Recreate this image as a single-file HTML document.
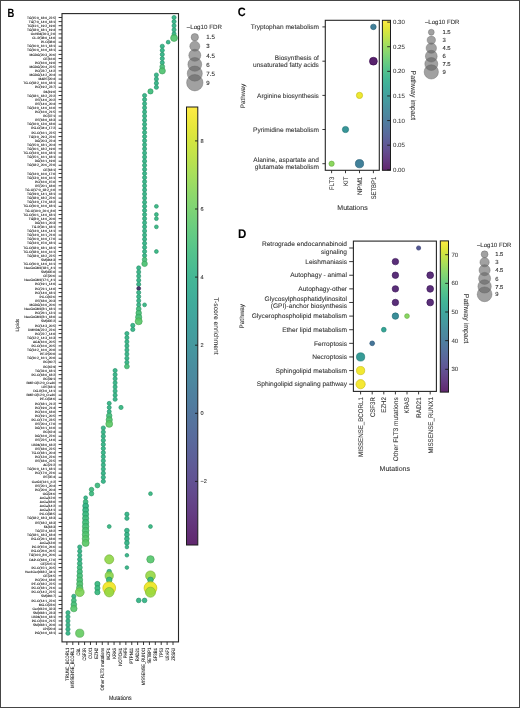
<!DOCTYPE html><html><head><meta charset="utf-8"><title>Figure</title><style>html,body{margin:0;padding:0;background:#fff;}svg{display:block;will-change:transform;}text{font-family:"Liberation Sans",sans-serif;text-rendering:geometricPrecision;}</style></head><body>
<svg width="520" height="708" viewBox="0 0 520 708">
<defs>
<linearGradient id="gB" x1="0" y1="1" x2="0" y2="0">
<stop offset="0.000" stop-color="#60276e"/>
<stop offset="0.025" stop-color="#622e75"/>
<stop offset="0.050" stop-color="#63367c"/>
<stop offset="0.075" stop-color="#643e84"/>
<stop offset="0.100" stop-color="#644589"/>
<stop offset="0.125" stop-color="#634c8f"/>
<stop offset="0.150" stop-color="#615393"/>
<stop offset="0.175" stop-color="#605996"/>
<stop offset="0.200" stop-color="#5d6099"/>
<stop offset="0.225" stop-color="#5b669b"/>
<stop offset="0.250" stop-color="#586c9d"/>
<stop offset="0.275" stop-color="#56729d"/>
<stop offset="0.300" stop-color="#53779e"/>
<stop offset="0.325" stop-color="#507d9f"/>
<stop offset="0.350" stop-color="#4e829f"/>
<stop offset="0.375" stop-color="#4c889f"/>
<stop offset="0.400" stop-color="#4a8c9f"/>
<stop offset="0.425" stop-color="#48919f"/>
<stop offset="0.450" stop-color="#46979f"/>
<stop offset="0.475" stop-color="#449c9e"/>
<stop offset="0.500" stop-color="#42a19e"/>
<stop offset="0.525" stop-color="#41a69d"/>
<stop offset="0.550" stop-color="#40ab9b"/>
<stop offset="0.575" stop-color="#41b099"/>
<stop offset="0.600" stop-color="#43b596"/>
<stop offset="0.625" stop-color="#48ba93"/>
<stop offset="0.650" stop-color="#4fbf8f"/>
<stop offset="0.675" stop-color="#56c48b"/>
<stop offset="0.700" stop-color="#60c986"/>
<stop offset="0.725" stop-color="#6acd80"/>
<stop offset="0.750" stop-color="#76d179"/>
<stop offset="0.775" stop-color="#82d573"/>
<stop offset="0.800" stop-color="#8ed86b"/>
<stop offset="0.825" stop-color="#9cdc62"/>
<stop offset="0.850" stop-color="#aadf5a"/>
<stop offset="0.875" stop-color="#b9e14f"/>
<stop offset="0.900" stop-color="#c7e447"/>
<stop offset="0.925" stop-color="#d5e53f"/>
<stop offset="0.950" stop-color="#e4e73b"/>
<stop offset="0.975" stop-color="#f1e93e"/>
<stop offset="1.000" stop-color="#feeb45"/>
</linearGradient>
<linearGradient id="gC" x1="0" y1="1" x2="0" y2="0">
<stop offset="0.000" stop-color="#60276e"/>
<stop offset="0.025" stop-color="#622e75"/>
<stop offset="0.050" stop-color="#63367c"/>
<stop offset="0.075" stop-color="#643e84"/>
<stop offset="0.100" stop-color="#644589"/>
<stop offset="0.125" stop-color="#634c8f"/>
<stop offset="0.150" stop-color="#615393"/>
<stop offset="0.175" stop-color="#605996"/>
<stop offset="0.200" stop-color="#5d6099"/>
<stop offset="0.225" stop-color="#5b669b"/>
<stop offset="0.250" stop-color="#586c9d"/>
<stop offset="0.275" stop-color="#56729d"/>
<stop offset="0.300" stop-color="#53779e"/>
<stop offset="0.325" stop-color="#507d9f"/>
<stop offset="0.350" stop-color="#4e829f"/>
<stop offset="0.375" stop-color="#4c889f"/>
<stop offset="0.400" stop-color="#4a8c9f"/>
<stop offset="0.425" stop-color="#48919f"/>
<stop offset="0.450" stop-color="#46979f"/>
<stop offset="0.475" stop-color="#449c9e"/>
<stop offset="0.500" stop-color="#42a19e"/>
<stop offset="0.525" stop-color="#41a69d"/>
<stop offset="0.550" stop-color="#40ab9b"/>
<stop offset="0.575" stop-color="#41b099"/>
<stop offset="0.600" stop-color="#43b596"/>
<stop offset="0.625" stop-color="#48ba93"/>
<stop offset="0.650" stop-color="#4fbf8f"/>
<stop offset="0.675" stop-color="#56c48b"/>
<stop offset="0.700" stop-color="#60c986"/>
<stop offset="0.725" stop-color="#6acd80"/>
<stop offset="0.750" stop-color="#76d179"/>
<stop offset="0.775" stop-color="#82d573"/>
<stop offset="0.800" stop-color="#8ed86b"/>
<stop offset="0.825" stop-color="#9cdc62"/>
<stop offset="0.850" stop-color="#aadf5a"/>
<stop offset="0.875" stop-color="#b9e14f"/>
<stop offset="0.900" stop-color="#c7e447"/>
<stop offset="0.925" stop-color="#d5e53f"/>
<stop offset="0.950" stop-color="#e4e73b"/>
<stop offset="0.975" stop-color="#f1e93e"/>
<stop offset="1.000" stop-color="#feeb45"/>
</linearGradient>
<linearGradient id="gD" x1="0" y1="1" x2="0" y2="0">
<stop offset="0.000" stop-color="#60276e"/>
<stop offset="0.025" stop-color="#622e75"/>
<stop offset="0.050" stop-color="#63367c"/>
<stop offset="0.075" stop-color="#643e84"/>
<stop offset="0.100" stop-color="#644589"/>
<stop offset="0.125" stop-color="#634c8f"/>
<stop offset="0.150" stop-color="#615393"/>
<stop offset="0.175" stop-color="#605996"/>
<stop offset="0.200" stop-color="#5d6099"/>
<stop offset="0.225" stop-color="#5b669b"/>
<stop offset="0.250" stop-color="#586c9d"/>
<stop offset="0.275" stop-color="#56729d"/>
<stop offset="0.300" stop-color="#53779e"/>
<stop offset="0.325" stop-color="#507d9f"/>
<stop offset="0.350" stop-color="#4e829f"/>
<stop offset="0.375" stop-color="#4c889f"/>
<stop offset="0.400" stop-color="#4a8c9f"/>
<stop offset="0.425" stop-color="#48919f"/>
<stop offset="0.450" stop-color="#46979f"/>
<stop offset="0.475" stop-color="#449c9e"/>
<stop offset="0.500" stop-color="#42a19e"/>
<stop offset="0.525" stop-color="#41a69d"/>
<stop offset="0.550" stop-color="#40ab9b"/>
<stop offset="0.575" stop-color="#41b099"/>
<stop offset="0.600" stop-color="#43b596"/>
<stop offset="0.625" stop-color="#48ba93"/>
<stop offset="0.650" stop-color="#4fbf8f"/>
<stop offset="0.675" stop-color="#56c48b"/>
<stop offset="0.700" stop-color="#60c986"/>
<stop offset="0.725" stop-color="#6acd80"/>
<stop offset="0.750" stop-color="#76d179"/>
<stop offset="0.775" stop-color="#82d573"/>
<stop offset="0.800" stop-color="#8ed86b"/>
<stop offset="0.825" stop-color="#9cdc62"/>
<stop offset="0.850" stop-color="#aadf5a"/>
<stop offset="0.875" stop-color="#b9e14f"/>
<stop offset="0.900" stop-color="#c7e447"/>
<stop offset="0.925" stop-color="#d5e53f"/>
<stop offset="0.950" stop-color="#e4e73b"/>
<stop offset="0.975" stop-color="#f1e93e"/>
<stop offset="1.000" stop-color="#feeb45"/>
</linearGradient>
</defs>
<rect x="0" y="0" width="520" height="708" fill="#fff"/>
<g font-size="3.25" fill="#111" text-anchor="end" stroke="#111" stroke-width="0.08">
<text x="56.2" y="18.65">TG(15:0_18:0_22:5)</text>
<text x="56.2" y="22.75">TG(7:0_14:0_18:1)</text>
<text x="56.2" y="26.86">TG(11:1_19:2_19:0)</text>
<text x="56.2" y="30.96">TG(18:0_18:1_19:4)</text>
<text x="56.2" y="35.07">OxHPA(20:3_2:0)</text>
<text x="56.2" y="39.18">CL-P(38:0_14:0)</text>
<text x="56.2" y="43.28">PI-O(38:0)</text>
<text x="56.2" y="47.38">TG(16:0_16:1_18:1)</text>
<text x="56.2" y="51.49">TG(16:0_16:0_18:1)</text>
<text x="56.2" y="55.60">MGDG(20:3_20:6)</text>
<text x="56.2" y="59.70">CE(16:0)</text>
<text x="56.2" y="63.80">PC(16:0_19:0)</text>
<text x="56.2" y="67.91">MGDG(20:4_22:5)</text>
<text x="56.2" y="72.02">PC(23:7_14:2)</text>
<text x="56.2" y="76.12">MGDG(14:2_20:4)</text>
<text x="56.2" y="80.23">MAPE(20:4)</text>
<text x="56.2" y="84.33">TG-O(18:2_16:0_18:1)</text>
<text x="56.2" y="88.44">PC(19:2_23:7)</text>
<text x="56.2" y="92.54">PA(19:0)</text>
<text x="56.2" y="96.65">TG(18:1_18:2_22:2)</text>
<text x="56.2" y="100.75">PE(14:0_20:2)</text>
<text x="56.2" y="104.86">PE(14:0_20:4)</text>
<text x="56.2" y="108.96">TG(14:0_14:0_16:0)</text>
<text x="56.2" y="113.07">PC(16:0_21:5)</text>
<text x="56.2" y="117.17">PC(37:1)</text>
<text x="56.2" y="121.28">PE(18:0_18:3)</text>
<text x="56.2" y="125.38">TG(10:0_13:0_18:0)</text>
<text x="56.2" y="129.49">PG-O(34:4_17:2)</text>
<text x="56.2" y="133.59">PC-O(16:1_22:5)</text>
<text x="56.2" y="137.70">TG(4:0_29:3_22:6)</text>
<text x="56.2" y="141.80">DG(20:3_22:4)</text>
<text x="56.2" y="145.91">TG(15:0_18:1_20:4)</text>
<text x="56.2" y="150.01">TG(16:1_18:2_19:0)</text>
<text x="56.2" y="154.12">TG-O(14:0_16:0_18:1)</text>
<text x="56.2" y="158.22">TG(15:1_16:1_18:1)</text>
<text x="56.2" y="162.33">DG(16:1_19:0)</text>
<text x="56.2" y="166.43">TG(18:2_20:6_22:0)</text>
<text x="56.2" y="170.54">CE(18:1)</text>
<text x="56.2" y="174.64">TG(14:0_16:0_17:0)</text>
<text x="56.2" y="178.75">TG(13:0_16:0_16:1)</text>
<text x="56.2" y="182.85">PC(16:0_15:0)</text>
<text x="56.2" y="186.96">PE(20:1_18:0)</text>
<text x="56.2" y="191.06">TG-O(17:0_18:2_6:0)</text>
<text x="56.2" y="195.17">TG(19:0_14:1_18:1)</text>
<text x="56.2" y="199.27">TG(18:0_18:2_22:6)</text>
<text x="56.2" y="203.38">TG(14:0_17:0_18:2)</text>
<text x="56.2" y="207.48">TG-O(16:0_16:0_18:1)</text>
<text x="56.2" y="211.59">TG-O(10:0_20:4_8:0)</text>
<text x="56.2" y="215.69">TG-O(16:1_14:0_18:1)</text>
<text x="56.2" y="219.80">TG(8:0_14:0_20:0)</text>
<text x="56.2" y="223.90">DG(16:1_20:3)</text>
<text x="56.2" y="228.01">TG-P(36:1_18:1)</text>
<text x="56.2" y="232.11">TG(14:0_14:0_14:1)</text>
<text x="56.2" y="236.22">TG(14:0_16:1_21:0)</text>
<text x="56.2" y="240.32">TG(16:0_16:0_17:0)</text>
<text x="56.2" y="244.43">TG(14:0_15:0_18:1)</text>
<text x="56.2" y="248.53">TG-O(18:0_18:1_18:1)</text>
<text x="56.2" y="252.64">TG-O(18:0_16:0_16:1)</text>
<text x="56.2" y="256.74">TG(18:0_18:2_22:5)</text>
<text x="56.2" y="260.85">SM(d44:3)</text>
<text x="56.2" y="264.95">TG-O(16:0_14:0_16:1)</text>
<text x="56.2" y="269.06">NeuGcGM1(18:1_4:1)</text>
<text x="56.2" y="273.16">SM(d35:0)</text>
<text x="56.2" y="277.26">CE(20:6)</text>
<text x="56.2" y="281.37">NeuGcGM1(17:1_4:1)</text>
<text x="56.2" y="285.48">PC(19:1_14:0)</text>
<text x="56.2" y="289.58">PC(21:1_14:0)</text>
<text x="56.2" y="293.69">PC(14:0_18:1)</text>
<text x="56.2" y="297.79">PC-O(42:6)</text>
<text x="56.2" y="301.89">PE(18:0_20:3)</text>
<text x="56.2" y="306.00">MGDG(16:0_20:6)</text>
<text x="56.2" y="310.11">NeuGcGM1(8:1_18:1)</text>
<text x="56.2" y="314.21">PC(26:1_13:1)</text>
<text x="56.2" y="318.31">NeuGcGM1(8:1_18:0)</text>
<text x="56.2" y="322.42">SM(d35:2)</text>
<text x="56.2" y="326.53">PC(14:3_20:5)</text>
<text x="56.2" y="330.63">DMHPA(22:2_22:6)</text>
<text x="56.2" y="334.74">PC(22:7_14:0)</text>
<text x="56.2" y="338.84">TG(12:2_14:3_16:3)</text>
<text x="56.2" y="342.94">ACA(16:0_20:5)</text>
<text x="56.2" y="347.05">PC-O(16:0_20:5)</text>
<text x="56.2" y="351.16">TG(14:2_16:0_20:0)</text>
<text x="56.2" y="355.26">PE-P(20:0)</text>
<text x="56.2" y="359.37">TG(16:2_16:1_20:0)</text>
<text x="56.2" y="363.47">PC(40:7)</text>
<text x="56.2" y="367.57">PC(42:9)</text>
<text x="56.2" y="371.68">TG(31:0_18:1)</text>
<text x="56.2" y="375.79">PC-O(18:0_18:2)</text>
<text x="56.2" y="379.89">PC(39:1)</text>
<text x="56.2" y="384.00">BMP-O(12:0_O:a16)</text>
<text x="56.2" y="388.10">LPE(18:1)</text>
<text x="56.2" y="392.21">DG-P(3:0_14:1)</text>
<text x="56.2" y="396.31">BMP-O(12:0_O:a16)</text>
<text x="56.2" y="400.42">PE-O(34:6)</text>
<text x="56.2" y="404.52">PC(18:1_21:2)</text>
<text x="56.2" y="408.62">PC(19:0_21:4)</text>
<text x="56.2" y="412.73">PC(16:0_18:0)</text>
<text x="56.2" y="416.84">PC(19:1_20:5)</text>
<text x="56.2" y="420.94">PC-O(17:0_23:5)</text>
<text x="56.2" y="425.05">PE(20:4_17:0)</text>
<text x="56.2" y="429.15">DG(16:1_16:0)</text>
<text x="56.2" y="433.25">PC(42:4)</text>
<text x="56.2" y="437.36">DG(16:0_22:6)</text>
<text x="56.2" y="441.47">PE(22:5_14:0)</text>
<text x="56.2" y="445.57">LBPA(18:0_18:2)</text>
<text x="56.2" y="449.68">PE(18:0_22:5)</text>
<text x="56.2" y="453.78">TG-O(18:1_20:4)</text>
<text x="56.2" y="457.89">PC(13:0_22:6)</text>
<text x="56.2" y="461.99">PE(18:0_22:5)</text>
<text x="56.2" y="466.10">AC(21:2)</text>
<text x="56.2" y="470.20">TG(16:0_14:1_18:1)</text>
<text x="56.2" y="474.31">PC(17:0_22:6)</text>
<text x="56.2" y="478.41">PE(35:4)</text>
<text x="56.2" y="482.52">CerG1(14:1_6:2)</text>
<text x="56.2" y="486.62">PE(20:1_20:4)</text>
<text x="56.2" y="490.73">PC(20:0_20:4)</text>
<text x="56.2" y="494.83">OG(24:6)</text>
<text x="56.2" y="498.94">AcCa(12:0)</text>
<text x="56.2" y="503.04">AcCa(18:0)</text>
<text x="56.2" y="507.15">AcCa(14:2)</text>
<text x="56.2" y="511.25">AcCa(14:1)</text>
<text x="56.2" y="515.36">PC-O(38:5)</text>
<text x="56.2" y="519.46">TG(18:2_18:3_18:3)</text>
<text x="56.2" y="523.57">PE(18:2_18:3)</text>
<text x="56.2" y="527.67">FA(18:3)</text>
<text x="56.2" y="531.77">TG(37:4_18:2)</text>
<text x="56.2" y="535.88">TG(18:1_18:3_18:4)</text>
<text x="56.2" y="539.99">PG-O(26:1_18:0)</text>
<text x="56.2" y="544.09">AcCa(13:0)</text>
<text x="56.2" y="548.20">PC-P(15:0_26:6)</text>
<text x="56.2" y="552.30">PG-O(26:0_26:5)</text>
<text x="56.2" y="556.41">TG(14:0_8:0_20:6)</text>
<text x="56.2" y="560.51">DAP-O(18:0_17:0)</text>
<text x="56.2" y="564.62">CE(20:5:1)</text>
<text x="56.2" y="568.72">PC-O(15:1_20:5)</text>
<text x="56.2" y="572.83">Hex1Cer(d18:2_34:1)</text>
<text x="56.2" y="576.93">CE(24:5)</text>
<text x="56.2" y="581.04">PC(20:4_18:0)</text>
<text x="56.2" y="585.14">PE-O(18:2_22:5)</text>
<text x="56.2" y="589.25">PC-O(18:1_21:6)</text>
<text x="56.2" y="593.35">PC-O(14:2_22:5)</text>
<text x="56.2" y="597.46">SM(d46:7)</text>
<text x="56.2" y="601.56">PC-O(14:1_22:6)</text>
<text x="56.2" y="605.67">MG-O(23:6)</text>
<text x="56.2" y="609.77">Cer(d12:0_32:3)</text>
<text x="56.2" y="613.88">SM(d18:1_23:3)</text>
<text x="56.2" y="617.98">LBPA(16:0_18:1)</text>
<text x="56.2" y="622.09">PC-O(11:0_21:5)</text>
<text x="56.2" y="626.19">SM(d18:1_20:0)</text>
<text x="56.2" y="630.30">LPI(20:4)</text>
<text x="56.2" y="634.40">PG(16:0_18:1)</text>
</g>
<path d="M58.6 17.50H62M58.6 21.61H62M58.6 25.71H62M58.6 29.82H62M58.6 33.92H62M58.6 38.03H62M58.6 42.13H62M58.6 46.23H62M58.6 50.34H62M58.6 54.45H62M58.6 58.55H62M58.6 62.66H62M58.6 66.76H62M58.6 70.87H62M58.6 74.97H62M58.6 79.08H62M58.6 83.18H62M58.6 87.29H62M58.6 91.39H62M58.6 95.50H62M58.6 99.60H62M58.6 103.71H62M58.6 107.81H62M58.6 111.92H62M58.6 116.02H62M58.6 120.13H62M58.6 124.23H62M58.6 128.34H62M58.6 132.44H62M58.6 136.55H62M58.6 140.65H62M58.6 144.75H62M58.6 148.86H62M58.6 152.97H62M58.6 157.07H62M58.6 161.18H62M58.6 165.28H62M58.6 169.39H62M58.6 173.49H62M58.6 177.60H62M58.6 181.70H62M58.6 185.81H62M58.6 189.91H62M58.6 194.02H62M58.6 198.12H62M58.6 202.23H62M58.6 206.33H62M58.6 210.44H62M58.6 214.54H62M58.6 218.65H62M58.6 222.75H62M58.6 226.86H62M58.6 230.96H62M58.6 235.07H62M58.6 239.17H62M58.6 243.28H62M58.6 247.38H62M58.6 251.49H62M58.6 255.59H62M58.6 259.70H62M58.6 263.80H62M58.6 267.91H62M58.6 272.01H62M58.6 276.12H62M58.6 280.22H62M58.6 284.33H62M58.6 288.43H62M58.6 292.54H62M58.6 296.64H62M58.6 300.75H62M58.6 304.85H62M58.6 308.96H62M58.6 313.06H62M58.6 317.17H62M58.6 321.27H62M58.6 325.38H62M58.6 329.48H62M58.6 333.59H62M58.6 337.69H62M58.6 341.80H62M58.6 345.90H62M58.6 350.01H62M58.6 354.11H62M58.6 358.22H62M58.6 362.32H62M58.6 366.43H62M58.6 370.53H62M58.6 374.64H62M58.6 378.74H62M58.6 382.85H62M58.6 386.95H62M58.6 391.06H62M58.6 395.16H62M58.6 399.27H62M58.6 403.37H62M58.6 407.48H62M58.6 411.58H62M58.6 415.69H62M58.6 419.79H62M58.6 423.90H62M58.6 428.00H62M58.6 432.11H62M58.6 436.21H62M58.6 440.32H62M58.6 444.42H62M58.6 448.53H62M58.6 452.63H62M58.6 456.74H62M58.6 460.84H62M58.6 464.95H62M58.6 469.05H62M58.6 473.16H62M58.6 477.26H62M58.6 481.37H62M58.6 485.47H62M58.6 489.58H62M58.6 493.68H62M58.6 497.79H62M58.6 501.89H62M58.6 506.00H62M58.6 510.10H62M58.6 514.21H62M58.6 518.31H62M58.6 522.42H62M58.6 526.52H62M58.6 530.62H62M58.6 534.73H62M58.6 538.84H62M58.6 542.94H62M58.6 547.05H62M58.6 551.15H62M58.6 555.26H62M58.6 559.36H62M58.6 563.47H62M58.6 567.57H62M58.6 571.68H62M58.6 575.78H62M58.6 579.89H62M58.6 583.99H62M58.6 588.10H62M58.6 592.20H62M58.6 596.31H62M58.6 600.41H62M58.6 604.52H62M58.6 608.62H62M58.6 612.73H62M58.6 616.83H62M58.6 620.94H62M58.6 625.04H62M58.6 629.15H62M58.6 633.25H62" stroke="#222" stroke-width="0.9" fill="none"/>
<path d="M66.90 641.90V645.0M72.80 641.90V645.0M78.69 641.90V645.0M84.59 641.90V645.0M90.48 641.90V645.0M96.38 641.90V645.0M102.27 641.90V645.0M108.17 641.90V645.0M114.06 641.90V645.0M119.95 641.90V645.0M125.85 641.90V645.0M131.75 641.90V645.0M137.64 641.90V645.0M143.53 641.90V645.0M149.43 641.90V645.0M155.32 641.90V645.0M161.22 641.90V645.0M167.12 641.90V645.0M173.01 641.90V645.0" stroke="#222" stroke-width="0.9" fill="none"/>
<g font-size="4.9" fill="#1e1e1e" text-anchor="end" stroke="#1e1e1e" stroke-width="0.08">
<text transform="translate(68.50,647.80) rotate(-90)" textLength="33" lengthAdjust="spacingAndGlyphs">TRUNC_BCORL1</text>
<text transform="translate(74.39,647.80) rotate(-90)" textLength="40" lengthAdjust="spacingAndGlyphs">MISSENSE_BCORL1</text>
<text transform="translate(80.29,647.80) rotate(-90)" textLength="7.6" lengthAdjust="spacingAndGlyphs">CBL</text>
<text transform="translate(86.19,647.80) rotate(-90)" textLength="12.8" lengthAdjust="spacingAndGlyphs">CSF3R</text>
<text transform="translate(92.08,647.80) rotate(-90)" textLength="11" lengthAdjust="spacingAndGlyphs">CUX1</text>
<text transform="translate(97.97,647.80) rotate(-90)" textLength="11" lengthAdjust="spacingAndGlyphs">EZH2</text>
<text transform="translate(103.87,647.80) rotate(-90)" textLength="42.7" lengthAdjust="spacingAndGlyphs">Other FLT3 mutations</text>
<text transform="translate(109.77,647.80) rotate(-90)" textLength="12" lengthAdjust="spacingAndGlyphs">IKZF1</text>
<text transform="translate(115.66,647.80) rotate(-90)" textLength="11" lengthAdjust="spacingAndGlyphs">KRAS</text>
<text transform="translate(121.55,647.80) rotate(-90)" textLength="18" lengthAdjust="spacingAndGlyphs">NOTCH1</text>
<text transform="translate(127.45,647.80) rotate(-90)" textLength="10.5" lengthAdjust="spacingAndGlyphs">PHF6</text>
<text transform="translate(133.34,647.80) rotate(-90)" textLength="15.8" lengthAdjust="spacingAndGlyphs">PTPN11</text>
<text transform="translate(139.24,647.80) rotate(-90)" textLength="13.5" lengthAdjust="spacingAndGlyphs">RAD21</text>
<text transform="translate(145.13,647.80) rotate(-90)" textLength="37.4" lengthAdjust="spacingAndGlyphs">MISSENSE_RUNX1</text>
<text transform="translate(151.03,647.80) rotate(-90)" textLength="15.8" lengthAdjust="spacingAndGlyphs">SETBP1</text>
<text transform="translate(156.92,647.80) rotate(-90)" textLength="13.5" lengthAdjust="spacingAndGlyphs">SF3B1</text>
<text transform="translate(162.82,647.80) rotate(-90)" textLength="9.7" lengthAdjust="spacingAndGlyphs">TP53</text>
<text transform="translate(168.72,647.80) rotate(-90)" textLength="12.8" lengthAdjust="spacingAndGlyphs">U2AF1</text>
<text transform="translate(174.61,647.80) rotate(-90)" textLength="12.8" lengthAdjust="spacingAndGlyphs">ZRSR2</text>
</g>
<circle cx="174.06" cy="17.50" r="2.08" fill="#2ab07f" fill-opacity="0.9" stroke="#229068" stroke-opacity="0.85" stroke-width="0.75"/>
<circle cx="174.06" cy="21.61" r="2.08" fill="#2ab07f" fill-opacity="0.9" stroke="#229068" stroke-opacity="0.85" stroke-width="0.75"/>
<circle cx="174.06" cy="25.71" r="2.08" fill="#2ab07f" fill-opacity="0.9" stroke="#229068" stroke-opacity="0.85" stroke-width="0.75"/>
<circle cx="174.06" cy="29.82" r="2.08" fill="#2ab07f" fill-opacity="0.9" stroke="#229068" stroke-opacity="0.85" stroke-width="0.75"/>
<circle cx="174.06" cy="33.92" r="2.08" fill="#2ab07f" fill-opacity="0.9" stroke="#229068" stroke-opacity="0.85" stroke-width="0.75"/>
<circle cx="174.06" cy="38.03" r="3.42" fill="#4ec36b" fill-opacity="0.9" stroke="#40a058" stroke-opacity="0.85" stroke-width="0.75"/>
<circle cx="168.16" cy="42.13" r="1.92" fill="#2ab07f" fill-opacity="0.9" stroke="#229068" stroke-opacity="0.85" stroke-width="0.75"/>
<circle cx="162.27" cy="46.23" r="2.08" fill="#2ab07f" fill-opacity="0.9" stroke="#229068" stroke-opacity="0.85" stroke-width="0.75"/>
<circle cx="162.27" cy="50.34" r="2.08" fill="#2ab07f" fill-opacity="0.9" stroke="#229068" stroke-opacity="0.85" stroke-width="0.75"/>
<circle cx="162.27" cy="54.45" r="2.08" fill="#2ab07f" fill-opacity="0.9" stroke="#229068" stroke-opacity="0.85" stroke-width="0.75"/>
<circle cx="162.27" cy="58.55" r="2.08" fill="#2ab07f" fill-opacity="0.9" stroke="#229068" stroke-opacity="0.85" stroke-width="0.75"/>
<circle cx="162.27" cy="62.66" r="2.08" fill="#2ab07f" fill-opacity="0.9" stroke="#229068" stroke-opacity="0.85" stroke-width="0.75"/>
<circle cx="162.27" cy="66.76" r="2.42" fill="#3fbc73" fill-opacity="0.9" stroke="#349a5e" stroke-opacity="0.85" stroke-width="0.75"/>
<circle cx="162.27" cy="70.87" r="3.12" fill="#4ac16d" fill-opacity="0.9" stroke="#3d9e59" stroke-opacity="0.85" stroke-width="0.75"/>
<circle cx="156.38" cy="74.97" r="2.08" fill="#2ab07f" fill-opacity="0.9" stroke="#229068" stroke-opacity="0.85" stroke-width="0.75"/>
<circle cx="156.38" cy="79.08" r="2.08" fill="#2ab07f" fill-opacity="0.9" stroke="#229068" stroke-opacity="0.85" stroke-width="0.75"/>
<circle cx="156.38" cy="83.18" r="2.08" fill="#2ab07f" fill-opacity="0.9" stroke="#229068" stroke-opacity="0.85" stroke-width="0.75"/>
<circle cx="156.38" cy="87.29" r="2.08" fill="#2ab07f" fill-opacity="0.9" stroke="#229068" stroke-opacity="0.85" stroke-width="0.75"/>
<circle cx="150.48" cy="91.39" r="2.62" fill="#38b977" fill-opacity="0.9" stroke="#2e9862" stroke-opacity="0.85" stroke-width="0.75"/>
<circle cx="144.58" cy="95.50" r="2.08" fill="#2ab07f" fill-opacity="0.9" stroke="#229068" stroke-opacity="0.85" stroke-width="0.75"/>
<circle cx="144.58" cy="99.60" r="2.08" fill="#2ab07f" fill-opacity="0.9" stroke="#229068" stroke-opacity="0.85" stroke-width="0.75"/>
<circle cx="144.58" cy="103.71" r="2.08" fill="#2ab07f" fill-opacity="0.9" stroke="#229068" stroke-opacity="0.85" stroke-width="0.75"/>
<circle cx="144.58" cy="107.81" r="2.08" fill="#2ab07f" fill-opacity="0.9" stroke="#229068" stroke-opacity="0.85" stroke-width="0.75"/>
<circle cx="144.58" cy="111.92" r="2.08" fill="#2ab07f" fill-opacity="0.9" stroke="#229068" stroke-opacity="0.85" stroke-width="0.75"/>
<circle cx="144.58" cy="116.02" r="2.08" fill="#2ab07f" fill-opacity="0.9" stroke="#229068" stroke-opacity="0.85" stroke-width="0.75"/>
<circle cx="144.58" cy="120.13" r="2.08" fill="#2ab07f" fill-opacity="0.9" stroke="#229068" stroke-opacity="0.85" stroke-width="0.75"/>
<circle cx="144.58" cy="124.23" r="2.08" fill="#2ab07f" fill-opacity="0.9" stroke="#229068" stroke-opacity="0.85" stroke-width="0.75"/>
<circle cx="144.58" cy="128.34" r="2.08" fill="#2ab07f" fill-opacity="0.9" stroke="#229068" stroke-opacity="0.85" stroke-width="0.75"/>
<circle cx="144.58" cy="132.44" r="2.08" fill="#2ab07f" fill-opacity="0.9" stroke="#229068" stroke-opacity="0.85" stroke-width="0.75"/>
<circle cx="144.58" cy="136.55" r="2.08" fill="#2ab07f" fill-opacity="0.9" stroke="#229068" stroke-opacity="0.85" stroke-width="0.75"/>
<circle cx="144.58" cy="140.65" r="2.08" fill="#2ab07f" fill-opacity="0.9" stroke="#229068" stroke-opacity="0.85" stroke-width="0.75"/>
<circle cx="144.58" cy="144.75" r="2.08" fill="#2ab07f" fill-opacity="0.9" stroke="#229068" stroke-opacity="0.85" stroke-width="0.75"/>
<circle cx="144.58" cy="148.86" r="2.08" fill="#2ab07f" fill-opacity="0.9" stroke="#229068" stroke-opacity="0.85" stroke-width="0.75"/>
<circle cx="144.58" cy="152.97" r="2.08" fill="#2ab07f" fill-opacity="0.9" stroke="#229068" stroke-opacity="0.85" stroke-width="0.75"/>
<circle cx="144.58" cy="157.07" r="2.08" fill="#2ab07f" fill-opacity="0.9" stroke="#229068" stroke-opacity="0.85" stroke-width="0.75"/>
<circle cx="144.58" cy="161.18" r="2.08" fill="#2ab07f" fill-opacity="0.9" stroke="#229068" stroke-opacity="0.85" stroke-width="0.75"/>
<circle cx="144.58" cy="165.28" r="2.08" fill="#2ab07f" fill-opacity="0.9" stroke="#229068" stroke-opacity="0.85" stroke-width="0.75"/>
<circle cx="144.58" cy="169.39" r="2.08" fill="#2ab07f" fill-opacity="0.9" stroke="#229068" stroke-opacity="0.85" stroke-width="0.75"/>
<circle cx="144.58" cy="173.49" r="2.08" fill="#2ab07f" fill-opacity="0.9" stroke="#229068" stroke-opacity="0.85" stroke-width="0.75"/>
<circle cx="144.58" cy="177.60" r="2.08" fill="#2ab07f" fill-opacity="0.9" stroke="#229068" stroke-opacity="0.85" stroke-width="0.75"/>
<circle cx="144.58" cy="181.70" r="2.08" fill="#2ab07f" fill-opacity="0.9" stroke="#229068" stroke-opacity="0.85" stroke-width="0.75"/>
<circle cx="144.58" cy="185.81" r="2.08" fill="#2ab07f" fill-opacity="0.9" stroke="#229068" stroke-opacity="0.85" stroke-width="0.75"/>
<circle cx="144.58" cy="189.91" r="2.08" fill="#2ab07f" fill-opacity="0.9" stroke="#229068" stroke-opacity="0.85" stroke-width="0.75"/>
<circle cx="144.58" cy="194.02" r="2.08" fill="#2ab07f" fill-opacity="0.9" stroke="#229068" stroke-opacity="0.85" stroke-width="0.75"/>
<circle cx="144.58" cy="198.12" r="2.08" fill="#2ab07f" fill-opacity="0.9" stroke="#229068" stroke-opacity="0.85" stroke-width="0.75"/>
<circle cx="144.58" cy="202.23" r="2.08" fill="#2ab07f" fill-opacity="0.9" stroke="#229068" stroke-opacity="0.85" stroke-width="0.75"/>
<circle cx="144.58" cy="206.33" r="2.08" fill="#2ab07f" fill-opacity="0.9" stroke="#229068" stroke-opacity="0.85" stroke-width="0.75"/>
<circle cx="156.38" cy="206.33" r="1.92" fill="#2db27d" fill-opacity="0.9" stroke="#259266" stroke-opacity="0.85" stroke-width="0.75"/>
<circle cx="144.58" cy="210.44" r="2.08" fill="#2ab07f" fill-opacity="0.9" stroke="#229068" stroke-opacity="0.85" stroke-width="0.75"/>
<circle cx="144.58" cy="214.54" r="2.08" fill="#2ab07f" fill-opacity="0.9" stroke="#229068" stroke-opacity="0.85" stroke-width="0.75"/>
<circle cx="156.38" cy="214.54" r="1.92" fill="#2db27d" fill-opacity="0.9" stroke="#259266" stroke-opacity="0.85" stroke-width="0.75"/>
<circle cx="144.58" cy="218.65" r="2.08" fill="#2ab07f" fill-opacity="0.9" stroke="#229068" stroke-opacity="0.85" stroke-width="0.75"/>
<circle cx="156.38" cy="218.65" r="1.92" fill="#2db27d" fill-opacity="0.9" stroke="#259266" stroke-opacity="0.85" stroke-width="0.75"/>
<circle cx="144.58" cy="222.75" r="2.08" fill="#2ab07f" fill-opacity="0.9" stroke="#229068" stroke-opacity="0.85" stroke-width="0.75"/>
<circle cx="144.58" cy="226.86" r="2.08" fill="#2ab07f" fill-opacity="0.9" stroke="#229068" stroke-opacity="0.85" stroke-width="0.75"/>
<circle cx="156.38" cy="226.86" r="1.92" fill="#2db27d" fill-opacity="0.9" stroke="#259266" stroke-opacity="0.85" stroke-width="0.75"/>
<circle cx="144.58" cy="230.96" r="2.08" fill="#2ab07f" fill-opacity="0.9" stroke="#229068" stroke-opacity="0.85" stroke-width="0.75"/>
<circle cx="144.58" cy="235.07" r="2.08" fill="#2ab07f" fill-opacity="0.9" stroke="#229068" stroke-opacity="0.85" stroke-width="0.75"/>
<circle cx="144.58" cy="239.17" r="2.08" fill="#2ab07f" fill-opacity="0.9" stroke="#229068" stroke-opacity="0.85" stroke-width="0.75"/>
<circle cx="144.58" cy="243.28" r="2.08" fill="#2ab07f" fill-opacity="0.9" stroke="#229068" stroke-opacity="0.85" stroke-width="0.75"/>
<circle cx="144.58" cy="247.38" r="2.08" fill="#2ab07f" fill-opacity="0.9" stroke="#229068" stroke-opacity="0.85" stroke-width="0.75"/>
<circle cx="144.58" cy="251.49" r="2.08" fill="#2ab07f" fill-opacity="0.9" stroke="#229068" stroke-opacity="0.85" stroke-width="0.75"/>
<circle cx="156.38" cy="251.49" r="1.92" fill="#2db27d" fill-opacity="0.9" stroke="#259266" stroke-opacity="0.85" stroke-width="0.75"/>
<circle cx="144.58" cy="255.59" r="2.08" fill="#2ab07f" fill-opacity="0.9" stroke="#229068" stroke-opacity="0.85" stroke-width="0.75"/>
<circle cx="144.58" cy="259.70" r="2.33" fill="#3fbc73" fill-opacity="0.9" stroke="#349a5e" stroke-opacity="0.85" stroke-width="0.75"/>
<circle cx="144.58" cy="263.80" r="2.77" fill="#46c06f" fill-opacity="0.9" stroke="#399d5b" stroke-opacity="0.85" stroke-width="0.75"/>
<circle cx="138.69" cy="267.91" r="2.08" fill="#2ab07f" fill-opacity="0.9" stroke="#229068" stroke-opacity="0.85" stroke-width="0.75"/>
<circle cx="138.69" cy="272.01" r="2.08" fill="#2ab07f" fill-opacity="0.9" stroke="#229068" stroke-opacity="0.85" stroke-width="0.75"/>
<circle cx="138.69" cy="276.12" r="2.08" fill="#2ab07f" fill-opacity="0.9" stroke="#229068" stroke-opacity="0.85" stroke-width="0.75"/>
<circle cx="138.69" cy="280.22" r="2.08" fill="#2ab07f" fill-opacity="0.9" stroke="#229068" stroke-opacity="0.85" stroke-width="0.75"/>
<circle cx="138.69" cy="284.33" r="2.08" fill="#2ab07f" fill-opacity="0.9" stroke="#229068" stroke-opacity="0.85" stroke-width="0.75"/>
<circle cx="138.69" cy="288.43" r="1.92" fill="#33245a" fill-opacity="0.9" stroke="#2a1e4a" stroke-opacity="0.85" stroke-width="0.75"/>
<circle cx="138.69" cy="292.54" r="2.08" fill="#2ab07f" fill-opacity="0.9" stroke="#229068" stroke-opacity="0.85" stroke-width="0.75"/>
<circle cx="138.69" cy="296.64" r="2.08" fill="#2ab07f" fill-opacity="0.9" stroke="#229068" stroke-opacity="0.85" stroke-width="0.75"/>
<circle cx="138.69" cy="300.75" r="2.08" fill="#2ab07f" fill-opacity="0.9" stroke="#229068" stroke-opacity="0.85" stroke-width="0.75"/>
<circle cx="138.69" cy="304.85" r="2.08" fill="#2ab07f" fill-opacity="0.9" stroke="#229068" stroke-opacity="0.85" stroke-width="0.75"/>
<circle cx="144.58" cy="304.85" r="1.92" fill="#2db27d" fill-opacity="0.9" stroke="#259266" stroke-opacity="0.85" stroke-width="0.75"/>
<circle cx="138.69" cy="308.96" r="2.42" fill="#38b977" fill-opacity="0.9" stroke="#2e9862" stroke-opacity="0.85" stroke-width="0.75"/>
<circle cx="138.69" cy="313.06" r="2.77" fill="#42be71" fill-opacity="0.9" stroke="#369c5d" stroke-opacity="0.85" stroke-width="0.75"/>
<circle cx="138.69" cy="317.17" r="3.12" fill="#42be71" fill-opacity="0.9" stroke="#369c5d" stroke-opacity="0.85" stroke-width="0.75"/>
<circle cx="138.69" cy="321.27" r="3.52" fill="#56c667" fill-opacity="0.9" stroke="#47a254" stroke-opacity="0.85" stroke-width="0.75"/>
<circle cx="132.80" cy="325.38" r="2.12" fill="#2ab07f" fill-opacity="0.9" stroke="#229068" stroke-opacity="0.85" stroke-width="0.75"/>
<circle cx="132.80" cy="329.48" r="2.12" fill="#2ab07f" fill-opacity="0.9" stroke="#229068" stroke-opacity="0.85" stroke-width="0.75"/>
<circle cx="126.90" cy="333.59" r="2.08" fill="#2ab07f" fill-opacity="0.9" stroke="#229068" stroke-opacity="0.85" stroke-width="0.75"/>
<circle cx="126.90" cy="337.69" r="2.08" fill="#2ab07f" fill-opacity="0.9" stroke="#229068" stroke-opacity="0.85" stroke-width="0.75"/>
<circle cx="126.90" cy="341.80" r="2.08" fill="#2ab07f" fill-opacity="0.9" stroke="#229068" stroke-opacity="0.85" stroke-width="0.75"/>
<circle cx="126.90" cy="345.90" r="2.08" fill="#2ab07f" fill-opacity="0.9" stroke="#229068" stroke-opacity="0.85" stroke-width="0.75"/>
<circle cx="126.90" cy="350.01" r="2.08" fill="#2ab07f" fill-opacity="0.9" stroke="#229068" stroke-opacity="0.85" stroke-width="0.75"/>
<circle cx="126.90" cy="354.11" r="2.08" fill="#2ab07f" fill-opacity="0.9" stroke="#229068" stroke-opacity="0.85" stroke-width="0.75"/>
<circle cx="126.90" cy="358.22" r="2.08" fill="#2ab07f" fill-opacity="0.9" stroke="#229068" stroke-opacity="0.85" stroke-width="0.75"/>
<circle cx="126.90" cy="362.32" r="2.08" fill="#2ab07f" fill-opacity="0.9" stroke="#229068" stroke-opacity="0.85" stroke-width="0.75"/>
<circle cx="126.90" cy="366.43" r="2.42" fill="#3fbc73" fill-opacity="0.9" stroke="#349a5e" stroke-opacity="0.85" stroke-width="0.75"/>
<circle cx="115.11" cy="370.53" r="2.08" fill="#2ab07f" fill-opacity="0.9" stroke="#229068" stroke-opacity="0.85" stroke-width="0.75"/>
<circle cx="115.11" cy="374.64" r="2.08" fill="#2ab07f" fill-opacity="0.9" stroke="#229068" stroke-opacity="0.85" stroke-width="0.75"/>
<circle cx="115.11" cy="378.74" r="2.08" fill="#2ab07f" fill-opacity="0.9" stroke="#229068" stroke-opacity="0.85" stroke-width="0.75"/>
<circle cx="115.11" cy="382.85" r="2.08" fill="#2ab07f" fill-opacity="0.9" stroke="#229068" stroke-opacity="0.85" stroke-width="0.75"/>
<circle cx="115.11" cy="386.95" r="2.08" fill="#2ab07f" fill-opacity="0.9" stroke="#229068" stroke-opacity="0.85" stroke-width="0.75"/>
<circle cx="115.11" cy="391.06" r="2.08" fill="#2ab07f" fill-opacity="0.9" stroke="#229068" stroke-opacity="0.85" stroke-width="0.75"/>
<circle cx="115.11" cy="395.16" r="2.08" fill="#2ab07f" fill-opacity="0.9" stroke="#229068" stroke-opacity="0.85" stroke-width="0.75"/>
<circle cx="115.11" cy="399.27" r="2.08" fill="#2ab07f" fill-opacity="0.9" stroke="#229068" stroke-opacity="0.85" stroke-width="0.75"/>
<circle cx="109.22" cy="403.37" r="2.02" fill="#2ab07f" fill-opacity="0.9" stroke="#229068" stroke-opacity="0.85" stroke-width="0.75"/>
<circle cx="109.22" cy="407.48" r="2.02" fill="#2ab07f" fill-opacity="0.9" stroke="#229068" stroke-opacity="0.85" stroke-width="0.75"/>
<circle cx="121.00" cy="407.48" r="2.12" fill="#2fb47c" fill-opacity="0.9" stroke="#279466" stroke-opacity="0.85" stroke-width="0.75"/>
<circle cx="109.22" cy="411.58" r="2.02" fill="#2ab07f" fill-opacity="0.9" stroke="#229068" stroke-opacity="0.85" stroke-width="0.75"/>
<circle cx="109.22" cy="415.69" r="2.73" fill="#3bbb75" fill-opacity="0.9" stroke="#309960" stroke-opacity="0.85" stroke-width="0.75"/>
<circle cx="109.22" cy="419.79" r="3.12" fill="#4ac16d" fill-opacity="0.9" stroke="#3d9e59" stroke-opacity="0.85" stroke-width="0.75"/>
<circle cx="109.22" cy="423.90" r="3.42" fill="#5ac864" fill-opacity="0.9" stroke="#4aa452" stroke-opacity="0.85" stroke-width="0.75"/>
<circle cx="103.32" cy="428.00" r="2.12" fill="#2ab07f" fill-opacity="0.9" stroke="#229068" stroke-opacity="0.85" stroke-width="0.75"/>
<circle cx="103.32" cy="432.11" r="2.12" fill="#2ab07f" fill-opacity="0.9" stroke="#229068" stroke-opacity="0.85" stroke-width="0.75"/>
<circle cx="103.32" cy="436.21" r="2.12" fill="#2ab07f" fill-opacity="0.9" stroke="#229068" stroke-opacity="0.85" stroke-width="0.75"/>
<circle cx="103.32" cy="440.32" r="2.12" fill="#2ab07f" fill-opacity="0.9" stroke="#229068" stroke-opacity="0.85" stroke-width="0.75"/>
<circle cx="103.32" cy="444.42" r="2.12" fill="#2ab07f" fill-opacity="0.9" stroke="#229068" stroke-opacity="0.85" stroke-width="0.75"/>
<circle cx="103.32" cy="448.53" r="2.12" fill="#2ab07f" fill-opacity="0.9" stroke="#229068" stroke-opacity="0.85" stroke-width="0.75"/>
<circle cx="103.32" cy="452.63" r="2.12" fill="#2ab07f" fill-opacity="0.9" stroke="#229068" stroke-opacity="0.85" stroke-width="0.75"/>
<circle cx="103.32" cy="456.74" r="2.12" fill="#2ab07f" fill-opacity="0.9" stroke="#229068" stroke-opacity="0.85" stroke-width="0.75"/>
<circle cx="103.32" cy="460.84" r="2.12" fill="#2ab07f" fill-opacity="0.9" stroke="#229068" stroke-opacity="0.85" stroke-width="0.75"/>
<circle cx="103.32" cy="464.95" r="2.12" fill="#2ab07f" fill-opacity="0.9" stroke="#229068" stroke-opacity="0.85" stroke-width="0.75"/>
<circle cx="103.32" cy="469.05" r="2.12" fill="#2ab07f" fill-opacity="0.9" stroke="#229068" stroke-opacity="0.85" stroke-width="0.75"/>
<circle cx="103.32" cy="473.16" r="2.12" fill="#2ab07f" fill-opacity="0.9" stroke="#229068" stroke-opacity="0.85" stroke-width="0.75"/>
<circle cx="103.32" cy="477.26" r="2.12" fill="#2ab07f" fill-opacity="0.9" stroke="#229068" stroke-opacity="0.85" stroke-width="0.75"/>
<circle cx="103.32" cy="481.37" r="2.12" fill="#2ab07f" fill-opacity="0.9" stroke="#229068" stroke-opacity="0.85" stroke-width="0.75"/>
<circle cx="97.42" cy="485.47" r="2.42" fill="#35b779" fill-opacity="0.9" stroke="#2b9663" stroke-opacity="0.85" stroke-width="0.75"/>
<circle cx="91.53" cy="489.58" r="2.27" fill="#35b779" fill-opacity="0.9" stroke="#2b9663" stroke-opacity="0.85" stroke-width="0.75"/>
<circle cx="91.53" cy="493.68" r="2.27" fill="#35b779" fill-opacity="0.9" stroke="#2b9663" stroke-opacity="0.85" stroke-width="0.75"/>
<circle cx="150.48" cy="493.68" r="1.92" fill="#2fb47c" fill-opacity="0.9" stroke="#279466" stroke-opacity="0.85" stroke-width="0.75"/>
<circle cx="85.64" cy="497.79" r="1.92" fill="#2ab07f" fill-opacity="0.9" stroke="#229068" stroke-opacity="0.85" stroke-width="0.75"/>
<circle cx="85.64" cy="501.89" r="2.42" fill="#32b67a" fill-opacity="0.9" stroke="#299564" stroke-opacity="0.85" stroke-width="0.75"/>
<circle cx="85.64" cy="506.00" r="2.92" fill="#2ab07f" fill-opacity="0.9" stroke="#229068" stroke-opacity="0.85" stroke-width="0.75"/>
<circle cx="85.64" cy="510.10" r="2.99" fill="#2eb37c" fill-opacity="0.9" stroke="#269366" stroke-opacity="0.85" stroke-width="0.75"/>
<circle cx="85.64" cy="514.21" r="3.05" fill="#32b67a" fill-opacity="0.9" stroke="#299564" stroke-opacity="0.85" stroke-width="0.75"/>
<circle cx="126.90" cy="514.21" r="2.12" fill="#2ab07f" fill-opacity="0.9" stroke="#229068" stroke-opacity="0.85" stroke-width="0.75"/>
<circle cx="85.64" cy="518.31" r="3.12" fill="#37b878" fill-opacity="0.9" stroke="#2d9762" stroke-opacity="0.85" stroke-width="0.75"/>
<circle cx="126.90" cy="518.31" r="2.12" fill="#2ab07f" fill-opacity="0.9" stroke="#229068" stroke-opacity="0.85" stroke-width="0.75"/>
<circle cx="85.64" cy="522.42" r="3.18" fill="#3bbb75" fill-opacity="0.9" stroke="#309960" stroke-opacity="0.85" stroke-width="0.75"/>
<circle cx="85.64" cy="526.52" r="3.25" fill="#40bd72" fill-opacity="0.9" stroke="#349b5d" stroke-opacity="0.85" stroke-width="0.75"/>
<circle cx="109.22" cy="526.52" r="1.92" fill="#2fb47c" fill-opacity="0.9" stroke="#279466" stroke-opacity="0.85" stroke-width="0.75"/>
<circle cx="150.48" cy="526.52" r="1.92" fill="#2fb47c" fill-opacity="0.9" stroke="#279466" stroke-opacity="0.85" stroke-width="0.75"/>
<circle cx="85.64" cy="530.62" r="3.31" fill="#46c06f" fill-opacity="0.9" stroke="#399d5b" stroke-opacity="0.85" stroke-width="0.75"/>
<circle cx="126.90" cy="530.62" r="2.38" fill="#2ab07f" fill-opacity="0.9" stroke="#229068" stroke-opacity="0.85" stroke-width="0.75"/>
<circle cx="85.64" cy="534.73" r="3.38" fill="#4cc26c" fill-opacity="0.9" stroke="#3e9f59" stroke-opacity="0.85" stroke-width="0.75"/>
<circle cx="126.90" cy="534.73" r="2.38" fill="#2ab07f" fill-opacity="0.9" stroke="#229068" stroke-opacity="0.85" stroke-width="0.75"/>
<circle cx="85.64" cy="538.84" r="3.44" fill="#52c569" fill-opacity="0.9" stroke="#43a256" stroke-opacity="0.85" stroke-width="0.75"/>
<circle cx="126.90" cy="538.84" r="2.38" fill="#2ab07f" fill-opacity="0.9" stroke="#229068" stroke-opacity="0.85" stroke-width="0.75"/>
<circle cx="85.64" cy="542.94" r="3.51" fill="#58c765" fill-opacity="0.9" stroke="#48a353" stroke-opacity="0.85" stroke-width="0.75"/>
<circle cx="126.90" cy="542.94" r="2.38" fill="#2ab07f" fill-opacity="0.9" stroke="#229068" stroke-opacity="0.85" stroke-width="0.75"/>
<circle cx="79.74" cy="547.05" r="2.12" fill="#2ab07f" fill-opacity="0.9" stroke="#229068" stroke-opacity="0.85" stroke-width="0.75"/>
<circle cx="126.90" cy="547.05" r="1.83" fill="#2ab07f" fill-opacity="0.9" stroke="#229068" stroke-opacity="0.85" stroke-width="0.75"/>
<circle cx="79.74" cy="551.15" r="2.12" fill="#2ab07f" fill-opacity="0.9" stroke="#229068" stroke-opacity="0.85" stroke-width="0.75"/>
<circle cx="79.74" cy="555.26" r="2.12" fill="#2ab07f" fill-opacity="0.9" stroke="#229068" stroke-opacity="0.85" stroke-width="0.75"/>
<circle cx="126.90" cy="555.26" r="1.83" fill="#2ab07f" fill-opacity="0.9" stroke="#229068" stroke-opacity="0.85" stroke-width="0.75"/>
<circle cx="79.74" cy="559.36" r="2.23" fill="#2ab07f" fill-opacity="0.9" stroke="#229068" stroke-opacity="0.85" stroke-width="0.75"/>
<circle cx="109.22" cy="559.36" r="4.53" fill="#8ed645" fill-opacity="0.9" stroke="#74af39" stroke-opacity="0.85" stroke-width="0.75"/>
<circle cx="150.48" cy="559.36" r="3.72" fill="#52c569" fill-opacity="0.9" stroke="#43a256" stroke-opacity="0.85" stroke-width="0.75"/>
<circle cx="79.74" cy="563.47" r="2.38" fill="#2eb37c" fill-opacity="0.9" stroke="#269366" stroke-opacity="0.85" stroke-width="0.75"/>
<circle cx="79.74" cy="567.57" r="2.52" fill="#34b679" fill-opacity="0.9" stroke="#2b9563" stroke-opacity="0.85" stroke-width="0.75"/>
<circle cx="126.90" cy="567.57" r="1.83" fill="#2ab07f" fill-opacity="0.9" stroke="#229068" stroke-opacity="0.85" stroke-width="0.75"/>
<circle cx="79.74" cy="571.68" r="2.67" fill="#38b977" fill-opacity="0.9" stroke="#2e9862" stroke-opacity="0.85" stroke-width="0.75"/>
<circle cx="109.22" cy="571.68" r="2.33" fill="#2fb47c" fill-opacity="0.9" stroke="#279466" stroke-opacity="0.85" stroke-width="0.75"/>
<circle cx="79.74" cy="575.78" r="2.83" fill="#3fbc73" fill-opacity="0.9" stroke="#349a5e" stroke-opacity="0.85" stroke-width="0.75"/>
<circle cx="109.22" cy="575.78" r="4.12" fill="#89d548" fill-opacity="0.9" stroke="#70af3b" stroke-opacity="0.85" stroke-width="0.75"/>
<circle cx="150.48" cy="575.78" r="4.88" fill="#93d741" fill-opacity="0.9" stroke="#79b035" stroke-opacity="0.85" stroke-width="0.75"/>
<circle cx="79.74" cy="579.89" r="2.98" fill="#44bf70" fill-opacity="0.9" stroke="#389d5c" stroke-opacity="0.85" stroke-width="0.75"/>
<circle cx="109.22" cy="579.89" r="2.83" fill="#32b67a" fill-opacity="0.9" stroke="#299564" stroke-opacity="0.85" stroke-width="0.75"/>
<circle cx="150.48" cy="579.89" r="2.83" fill="#32b67a" fill-opacity="0.9" stroke="#299564" stroke-opacity="0.85" stroke-width="0.75"/>
<circle cx="79.74" cy="583.99" r="3.12" fill="#4ac16d" fill-opacity="0.9" stroke="#3d9e59" stroke-opacity="0.85" stroke-width="0.75"/>
<circle cx="97.42" cy="583.99" r="2.62" fill="#32b67a" fill-opacity="0.9" stroke="#299564" stroke-opacity="0.85" stroke-width="0.75"/>
<circle cx="79.74" cy="588.10" r="3.28" fill="#52c569" fill-opacity="0.9" stroke="#43a256" stroke-opacity="0.85" stroke-width="0.75"/>
<circle cx="97.42" cy="588.10" r="2.62" fill="#32b67a" fill-opacity="0.9" stroke="#299564" stroke-opacity="0.85" stroke-width="0.75"/>
<circle cx="109.22" cy="588.10" r="6.42" fill="#f1e51d" fill-opacity="0.9" stroke="#c6bc18" stroke-opacity="0.85" stroke-width="0.75"/>
<circle cx="150.48" cy="588.10" r="6.42" fill="#ece51b" fill-opacity="0.9" stroke="#c2bc16" stroke-opacity="0.85" stroke-width="0.75"/>
<circle cx="79.74" cy="592.20" r="4.42" fill="#7ad151" fill-opacity="0.9" stroke="#64ab42" stroke-opacity="0.85" stroke-width="0.75"/>
<circle cx="97.42" cy="592.20" r="2.62" fill="#32b67a" fill-opacity="0.9" stroke="#299564" stroke-opacity="0.85" stroke-width="0.75"/>
<circle cx="109.22" cy="592.20" r="4.72" fill="#93d741" fill-opacity="0.9" stroke="#79b035" stroke-opacity="0.85" stroke-width="0.75"/>
<circle cx="150.48" cy="592.20" r="5.03" fill="#98d83e" fill-opacity="0.9" stroke="#7db133" stroke-opacity="0.85" stroke-width="0.75"/>
<circle cx="73.84" cy="596.31" r="2.12" fill="#2ab07f" fill-opacity="0.9" stroke="#229068" stroke-opacity="0.85" stroke-width="0.75"/>
<circle cx="73.84" cy="600.41" r="2.42" fill="#38b977" fill-opacity="0.9" stroke="#2e9862" stroke-opacity="0.85" stroke-width="0.75"/>
<circle cx="138.69" cy="600.41" r="2.33" fill="#2ab07f" fill-opacity="0.9" stroke="#229068" stroke-opacity="0.85" stroke-width="0.75"/>
<circle cx="144.58" cy="600.41" r="2.33" fill="#2ab07f" fill-opacity="0.9" stroke="#229068" stroke-opacity="0.85" stroke-width="0.75"/>
<circle cx="73.84" cy="604.52" r="2.83" fill="#3fbc73" fill-opacity="0.9" stroke="#349a5e" stroke-opacity="0.85" stroke-width="0.75"/>
<circle cx="73.84" cy="608.62" r="3.23" fill="#52c569" fill-opacity="0.9" stroke="#43a256" stroke-opacity="0.85" stroke-width="0.75"/>
<circle cx="67.95" cy="612.73" r="2.12" fill="#2ab07f" fill-opacity="0.9" stroke="#229068" stroke-opacity="0.85" stroke-width="0.75"/>
<circle cx="67.95" cy="616.83" r="2.12" fill="#2ab07f" fill-opacity="0.9" stroke="#229068" stroke-opacity="0.85" stroke-width="0.75"/>
<circle cx="67.95" cy="620.94" r="2.12" fill="#2ab07f" fill-opacity="0.9" stroke="#229068" stroke-opacity="0.85" stroke-width="0.75"/>
<circle cx="67.95" cy="625.04" r="2.12" fill="#2ab07f" fill-opacity="0.9" stroke="#229068" stroke-opacity="0.85" stroke-width="0.75"/>
<circle cx="67.95" cy="629.15" r="2.12" fill="#2ab07f" fill-opacity="0.9" stroke="#229068" stroke-opacity="0.85" stroke-width="0.75"/>
<circle cx="67.95" cy="633.25" r="2.12" fill="#2ab07f" fill-opacity="0.9" stroke="#229068" stroke-opacity="0.85" stroke-width="0.75"/>
<circle cx="79.74" cy="633.25" r="4.12" fill="#63cb5f" fill-opacity="0.9" stroke="#51a64e" stroke-opacity="0.85" stroke-width="0.75"/>
<rect x="62.0" y="13.6" width="116.50" height="628.30" fill="none" stroke="#262626" stroke-width="1.1"/>
<text transform="translate(18.6,325.2) rotate(-90)" font-size="4.9" text-anchor="middle" fill="#333" stroke="#333" stroke-width="0.08">Lipids</text>
<text x="120.2" y="699.6" font-size="6.3" text-anchor="middle" fill="#222" textLength="22.6" lengthAdjust="spacingAndGlyphs" stroke="#222" stroke-width="0.08">Mutations</text>
<text transform="translate(7.5,16.75) scale(0.78,1)" font-size="12.0" font-weight="bold" fill="#000" stroke="#000" stroke-width="0.08">B</text>
<text x="186.80" y="29.40" font-size="6.2" text-anchor="start" fill="#333"  stroke="#333" stroke-width="0.08">–Log10 FDR</text>
<circle cx="194.8" cy="37.2" r="3.7" fill="#636363" fill-opacity="0.6" stroke="#636363" stroke-opacity="0.65" stroke-width="0.6"/>
<text x="206.30" y="39.40" font-size="6.1" text-anchor="start" fill="#222"  stroke="#222" stroke-width="0.08">1.5</text>
<circle cx="194.8" cy="46.2" r="5.0" fill="#636363" fill-opacity="0.6" stroke="#636363" stroke-opacity="0.65" stroke-width="0.6"/>
<text x="206.30" y="48.40" font-size="6.1" text-anchor="start" fill="#222"  stroke="#222" stroke-width="0.08">3</text>
<circle cx="194.8" cy="55.3" r="6.0" fill="#636363" fill-opacity="0.6" stroke="#636363" stroke-opacity="0.65" stroke-width="0.6"/>
<text x="206.30" y="57.50" font-size="6.1" text-anchor="start" fill="#222"  stroke="#222" stroke-width="0.08">4.5</text>
<circle cx="194.8" cy="64.4" r="6.9" fill="#636363" fill-opacity="0.6" stroke="#636363" stroke-opacity="0.65" stroke-width="0.6"/>
<text x="206.30" y="66.60" font-size="6.1" text-anchor="start" fill="#222"  stroke="#222" stroke-width="0.08">6</text>
<circle cx="194.8" cy="73.6" r="7.55" fill="#636363" fill-opacity="0.6" stroke="#636363" stroke-opacity="0.65" stroke-width="0.6"/>
<text x="206.30" y="75.80" font-size="6.1" text-anchor="start" fill="#222"  stroke="#222" stroke-width="0.08">7.5</text>
<circle cx="194.8" cy="82.7" r="8.2" fill="#636363" fill-opacity="0.6" stroke="#636363" stroke-opacity="0.65" stroke-width="0.6"/>
<text x="206.30" y="84.90" font-size="6.1" text-anchor="start" fill="#222"  stroke="#222" stroke-width="0.08">9</text>
<rect x="186.5" y="107.0" width="11.30" height="438.00" fill="url(#gB)" stroke="#1c1c1c" stroke-width="1"/>
<path d="M195 140.90H197.8" stroke="#1c1c1c" stroke-width="0.9"/>
<text x="200.60" y="142.90" font-size="5.6" text-anchor="start" fill="#333"  stroke="#333" stroke-width="0.08">8</text>
<path d="M195 209.00H197.8" stroke="#1c1c1c" stroke-width="0.9"/>
<text x="200.60" y="211.00" font-size="5.6" text-anchor="start" fill="#333"  stroke="#333" stroke-width="0.08">6</text>
<path d="M195 277.10H197.8" stroke="#1c1c1c" stroke-width="0.9"/>
<text x="200.60" y="279.10" font-size="5.6" text-anchor="start" fill="#333"  stroke="#333" stroke-width="0.08">4</text>
<path d="M195 345.20H197.8" stroke="#1c1c1c" stroke-width="0.9"/>
<text x="200.60" y="347.20" font-size="5.6" text-anchor="start" fill="#333"  stroke="#333" stroke-width="0.08">2</text>
<path d="M195 413.30H197.8" stroke="#1c1c1c" stroke-width="0.9"/>
<text x="200.60" y="415.30" font-size="5.6" text-anchor="start" fill="#333"  stroke="#333" stroke-width="0.08">0</text>
<path d="M195 481.40H197.8" stroke="#1c1c1c" stroke-width="0.9"/>
<text x="200.60" y="483.40" font-size="5.6" text-anchor="start" fill="#333"  stroke="#333" stroke-width="0.08">−2</text>
<text transform="translate(213.6,326) rotate(90)" font-size="6.7" text-anchor="middle" fill="#333" stroke="#333" stroke-width="0.08">T-score enrichment</text>
<text transform="translate(237.7,16.3) scale(0.9,1)" font-size="12.2" font-weight="bold" fill="#000" stroke="#000" stroke-width="0.08">C</text>
<path d="M322.4 26.9H325.3M322.4 61.2H325.3M322.4 95.4H325.3M322.4 129.5H325.3M322.4 163.7H325.3M331.6 170.3V173.2M345.5 170.3V173.2M359.5 170.3V173.2M373.4 170.3V173.2" stroke="#222" stroke-width="0.9" fill="none"/>
<text x="318.90" y="29.10" font-size="6.55" text-anchor="end" fill="#333"  stroke="#333" stroke-width="0.08">Tryptophan metabolism</text>
<text x="318.90" y="59.80" font-size="6.55" text-anchor="end" fill="#333"  stroke="#333" stroke-width="0.08">Biosynthesis of</text>
<text x="318.90" y="66.60" font-size="6.55" text-anchor="end" fill="#333"  stroke="#333" stroke-width="0.08">unsaturated fatty acids</text>
<text x="318.90" y="97.60" font-size="6.55" text-anchor="end" fill="#333"  stroke="#333" stroke-width="0.08">Arginine biosynthesis</text>
<text x="318.90" y="131.70" font-size="6.55" text-anchor="end" fill="#333"  stroke="#333" stroke-width="0.08">Pyrimidine metabolism</text>
<text x="318.90" y="162.30" font-size="6.55" text-anchor="end" fill="#333"  stroke="#333" stroke-width="0.08">Alanine, aspartate and</text>
<text x="318.90" y="169.10" font-size="6.55" text-anchor="end" fill="#333"  stroke="#333" stroke-width="0.08">glutamate metabolism</text>
<circle cx="373.40" cy="26.90" r="2.77" fill="#2c728e" fill-opacity="0.9" stroke="#245d74" stroke-opacity="0.85" stroke-width="0.75"/>
<circle cx="373.40" cy="61.20" r="3.92" fill="#460a5d" fill-opacity="0.9" stroke="#39084c" stroke-opacity="0.85" stroke-width="0.75"/>
<circle cx="359.50" cy="95.40" r="3.12" fill="#ece51b" fill-opacity="0.9" stroke="#c2bc16" stroke-opacity="0.85" stroke-width="0.75"/>
<circle cx="345.50" cy="129.50" r="3.12" fill="#228b8d" fill-opacity="0.9" stroke="#1c7274" stroke-opacity="0.85" stroke-width="0.75"/>
<circle cx="331.60" cy="163.70" r="2.62" fill="#7fd34e" fill-opacity="0.9" stroke="#68ad40" stroke-opacity="0.85" stroke-width="0.75"/>
<circle cx="359.50" cy="163.70" r="4.12" fill="#2c728e" fill-opacity="0.9" stroke="#245d74" stroke-opacity="0.85" stroke-width="0.75"/>
<rect x="325.3" y="20.3" width="54.00" height="150.00" fill="none" stroke="#262626" stroke-width="1.1"/>
<text transform="translate(333.90,176.8) rotate(-90)" font-size="6.7" text-anchor="end" fill="#333" textLength="13.1" lengthAdjust="spacingAndGlyphs" stroke="#333" stroke-width="0.08">FLT3</text>
<text transform="translate(347.80,176.8) rotate(-90)" font-size="6.7" text-anchor="end" fill="#333" textLength="9.1" lengthAdjust="spacingAndGlyphs" stroke="#333" stroke-width="0.08">KIT</text>
<text transform="translate(361.80,176.8) rotate(-90)" font-size="6.7" text-anchor="end" fill="#333" textLength="18.1" lengthAdjust="spacingAndGlyphs" stroke="#333" stroke-width="0.08">NPM1</text>
<text transform="translate(375.70,176.8) rotate(-90)" font-size="6.7" text-anchor="end" fill="#333" textLength="22.5" lengthAdjust="spacingAndGlyphs" stroke="#333" stroke-width="0.08">SETBP1</text>
<text x="352.5" y="209.8" font-size="7.0" text-anchor="middle" fill="#333" stroke="#333" stroke-width="0.08">Mutations</text>
<text transform="translate(244.6,96) rotate(-90)" font-size="6.4" text-anchor="middle" fill="#333" stroke="#333" stroke-width="0.08">Pathway</text>
<rect x="382.4" y="20.3" width="8.1" height="150.00" fill="url(#gC)" stroke="#1c1c1c" stroke-width="1"/>
<path d="M387.2 169.80H390.5" stroke="#1c1c1c" stroke-width="0.9"/>
<text x="393.00" y="171.90" font-size="6.1" text-anchor="start" fill="#444"  stroke="#444" stroke-width="0.08">0.00</text>
<path d="M387.2 145.19H390.5" stroke="#1c1c1c" stroke-width="0.9"/>
<text x="393.00" y="147.28" font-size="6.1" text-anchor="start" fill="#444"  stroke="#444" stroke-width="0.08">0.05</text>
<path d="M387.2 120.57H390.5" stroke="#1c1c1c" stroke-width="0.9"/>
<text x="393.00" y="122.67" font-size="6.1" text-anchor="start" fill="#444"  stroke="#444" stroke-width="0.08">0.10</text>
<path d="M387.2 95.95H390.5" stroke="#1c1c1c" stroke-width="0.9"/>
<text x="393.00" y="98.05" font-size="6.1" text-anchor="start" fill="#444"  stroke="#444" stroke-width="0.08">0.15</text>
<path d="M387.2 71.34H390.5" stroke="#1c1c1c" stroke-width="0.9"/>
<text x="393.00" y="73.44" font-size="6.1" text-anchor="start" fill="#444"  stroke="#444" stroke-width="0.08">0.20</text>
<path d="M387.2 46.73H390.5" stroke="#1c1c1c" stroke-width="0.9"/>
<text x="393.00" y="48.83" font-size="6.1" text-anchor="start" fill="#444"  stroke="#444" stroke-width="0.08">0.25</text>
<path d="M387.2 22.11H390.5" stroke="#1c1c1c" stroke-width="0.9"/>
<text x="393.00" y="24.21" font-size="6.1" text-anchor="start" fill="#444"  stroke="#444" stroke-width="0.08">0.30</text>
<text transform="translate(411.2,95.3) rotate(90)" font-size="7.0" text-anchor="middle" fill="#333" stroke="#333" stroke-width="0.08">Pathway impact</text>
<text x="424.90" y="24.40" font-size="6.1" text-anchor="start" fill="#333"  stroke="#333" stroke-width="0.08">–Log10 FDR</text>
<circle cx="431.3" cy="32.2" r="2.95" fill="#636363" fill-opacity="0.6" stroke="#636363" stroke-opacity="0.65" stroke-width="0.6"/>
<text x="442.40" y="34.30" font-size="5.9" text-anchor="start" fill="#222"  stroke="#222" stroke-width="0.08">1.5</text>
<circle cx="431.3" cy="40.1" r="4.2" fill="#636363" fill-opacity="0.6" stroke="#636363" stroke-opacity="0.65" stroke-width="0.6"/>
<text x="442.40" y="42.20" font-size="5.9" text-anchor="start" fill="#222"  stroke="#222" stroke-width="0.08">3</text>
<circle cx="431.3" cy="48.1" r="5.2" fill="#636363" fill-opacity="0.6" stroke="#636363" stroke-opacity="0.65" stroke-width="0.6"/>
<text x="442.40" y="50.20" font-size="5.9" text-anchor="start" fill="#222"  stroke="#222" stroke-width="0.08">4.5</text>
<circle cx="431.3" cy="56.2" r="5.9" fill="#636363" fill-opacity="0.6" stroke="#636363" stroke-opacity="0.65" stroke-width="0.6"/>
<text x="442.40" y="58.30" font-size="5.9" text-anchor="start" fill="#222"  stroke="#222" stroke-width="0.08">6</text>
<circle cx="431.3" cy="64.0" r="6.5" fill="#636363" fill-opacity="0.6" stroke="#636363" stroke-opacity="0.65" stroke-width="0.6"/>
<text x="442.40" y="66.10" font-size="5.9" text-anchor="start" fill="#222"  stroke="#222" stroke-width="0.08">7.5</text>
<circle cx="431.3" cy="71.9" r="7.15" fill="#636363" fill-opacity="0.6" stroke="#636363" stroke-opacity="0.65" stroke-width="0.6"/>
<text x="442.40" y="74.00" font-size="5.9" text-anchor="start" fill="#222"  stroke="#222" stroke-width="0.08">9</text>
<text transform="translate(238.1,237.6) scale(0.92,1)" font-size="12.5" font-weight="bold" fill="#000" stroke="#000" stroke-width="0.08">D</text>
<path d="M349.2 248.00H353.4M349.2 261.62H353.4M349.2 275.24H353.4M349.2 288.86H353.4M349.2 302.48H353.4M349.2 316.10H353.4M349.2 329.72H353.4M349.2 343.34H353.4M349.2 356.96H353.4M349.2 370.58H353.4M349.2 384.20H353.4M360.60 391.4V394.4M372.20 391.4V394.4M383.80 391.4V394.4M395.40 391.4V394.4M407.00 391.4V394.4M418.60 391.4V394.4M430.20 391.4V394.4" stroke="#222" stroke-width="0.9" fill="none"/>
<text x="347.00" y="246.30" font-size="6.6" text-anchor="end" fill="#333"  stroke="#333" stroke-width="0.08">Retrograde endocannabinoid</text>
<text x="347.00" y="253.60" font-size="6.6" text-anchor="end" fill="#333"  stroke="#333" stroke-width="0.08">signaling</text>
<text x="347.00" y="263.82" font-size="6.6" text-anchor="end" fill="#333"  stroke="#333" stroke-width="0.08">Leishmaniasis</text>
<text x="347.00" y="277.44" font-size="6.6" text-anchor="end" fill="#333"  stroke="#333" stroke-width="0.08">Autophagy - animal</text>
<text x="347.00" y="291.06" font-size="6.6" text-anchor="end" fill="#333"  stroke="#333" stroke-width="0.08">Autophagy-other</text>
<text x="347.00" y="300.78" font-size="6.6" text-anchor="end" fill="#333"  stroke="#333" stroke-width="0.08">Glycosylphosphatidylinositol</text>
<text x="347.00" y="308.08" font-size="6.6" text-anchor="end" fill="#333"  stroke="#333" stroke-width="0.08">(GPI)-anchor biosynthesis</text>
<text x="347.00" y="318.30" font-size="6.6" text-anchor="end" fill="#333"  stroke="#333" stroke-width="0.08">Glycerophospholipid metabolism</text>
<text x="347.00" y="331.92" font-size="6.6" text-anchor="end" fill="#333"  stroke="#333" stroke-width="0.08">Ether lipid metabolism</text>
<text x="347.00" y="345.54" font-size="6.6" text-anchor="end" fill="#333"  stroke="#333" stroke-width="0.08">Ferroptosis</text>
<text x="347.00" y="359.16" font-size="6.6" text-anchor="end" fill="#333"  stroke="#333" stroke-width="0.08">Necroptosis</text>
<text x="347.00" y="372.78" font-size="6.6" text-anchor="end" fill="#333"  stroke="#333" stroke-width="0.08">Sphingolipid metabolism</text>
<text x="347.00" y="386.40" font-size="6.6" text-anchor="end" fill="#333"  stroke="#333" stroke-width="0.08">Sphingolipid signaling pathway</text>
<circle cx="418.60" cy="248.00" r="2.12" fill="#404688" fill-opacity="0.9" stroke="#343970" stroke-opacity="0.85" stroke-width="0.75"/>
<circle cx="395.40" cy="261.62" r="3.23" fill="#48186a" fill-opacity="0.9" stroke="#3b1457" stroke-opacity="0.85" stroke-width="0.75"/>
<circle cx="395.40" cy="275.24" r="3.23" fill="#48186a" fill-opacity="0.9" stroke="#3b1457" stroke-opacity="0.85" stroke-width="0.75"/>
<circle cx="395.40" cy="288.86" r="3.23" fill="#48186a" fill-opacity="0.9" stroke="#3b1457" stroke-opacity="0.85" stroke-width="0.75"/>
<circle cx="395.40" cy="302.48" r="3.23" fill="#48186a" fill-opacity="0.9" stroke="#3b1457" stroke-opacity="0.85" stroke-width="0.75"/>
<circle cx="430.20" cy="275.24" r="3.38" fill="#48186a" fill-opacity="0.9" stroke="#3b1457" stroke-opacity="0.85" stroke-width="0.75"/>
<circle cx="430.20" cy="288.86" r="3.38" fill="#48186a" fill-opacity="0.9" stroke="#3b1457" stroke-opacity="0.85" stroke-width="0.75"/>
<circle cx="430.20" cy="302.48" r="3.38" fill="#48186a" fill-opacity="0.9" stroke="#3b1457" stroke-opacity="0.85" stroke-width="0.75"/>
<circle cx="395.40" cy="316.10" r="3.23" fill="#26828e" fill-opacity="0.9" stroke="#1f6b74" stroke-opacity="0.85" stroke-width="0.75"/>
<circle cx="407.00" cy="316.10" r="2.38" fill="#7cd250" fill-opacity="0.9" stroke="#66ac42" stroke-opacity="0.85" stroke-width="0.75"/>
<circle cx="383.80" cy="329.72" r="2.38" fill="#1f9a8a" fill-opacity="0.9" stroke="#197e71" stroke-opacity="0.85" stroke-width="0.75"/>
<circle cx="372.20" cy="343.34" r="2.38" fill="#31678e" fill-opacity="0.9" stroke="#285474" stroke-opacity="0.85" stroke-width="0.75"/>
<circle cx="360.60" cy="356.96" r="4.12" fill="#21918c" fill-opacity="0.9" stroke="#1b7773" stroke-opacity="0.85" stroke-width="0.75"/>
<circle cx="360.60" cy="370.58" r="4.12" fill="#efe51c" fill-opacity="0.9" stroke="#c4bc17" stroke-opacity="0.85" stroke-width="0.75"/>
<circle cx="360.60" cy="384.20" r="4.62" fill="#f4e61e" fill-opacity="0.9" stroke="#c8bd19" stroke-opacity="0.85" stroke-width="0.75"/>
<rect x="353.4" y="241.1" width="83.00" height="150.30" fill="none" stroke="#262626" stroke-width="1.1"/>
<text transform="translate(362.90,397.2) rotate(-90)" font-size="6.7" text-anchor="end" fill="#333" textLength="59.7" lengthAdjust="spacingAndGlyphs" stroke="#333" stroke-width="0.08">MISSENSE_BCORL1</text>
<text transform="translate(374.50,397.2) rotate(-90)" font-size="6.7" text-anchor="end" fill="#333" textLength="19.9" lengthAdjust="spacingAndGlyphs" stroke="#333" stroke-width="0.08">CSF3R</text>
<text transform="translate(386.10,397.2) rotate(-90)" font-size="6.7" text-anchor="end" fill="#333" textLength="15.6" lengthAdjust="spacingAndGlyphs" stroke="#333" stroke-width="0.08">EZH2</text>
<text transform="translate(397.70,397.2) rotate(-90)" font-size="6.7" text-anchor="end" fill="#333" textLength="64" lengthAdjust="spacingAndGlyphs" stroke="#333" stroke-width="0.08">Other FLT3 mutations</text>
<text transform="translate(409.30,397.2) rotate(-90)" font-size="6.7" text-anchor="end" fill="#333" textLength="16.4" lengthAdjust="spacingAndGlyphs" stroke="#333" stroke-width="0.08">KRAS</text>
<text transform="translate(420.90,397.2) rotate(-90)" font-size="6.7" text-anchor="end" fill="#333" textLength="20.8" lengthAdjust="spacingAndGlyphs" stroke="#333" stroke-width="0.08">RAD21</text>
<text transform="translate(432.50,397.2) rotate(-90)" font-size="6.7" text-anchor="end" fill="#333" textLength="56.2" lengthAdjust="spacingAndGlyphs" stroke="#333" stroke-width="0.08">MISSENSE_RUNX1</text>
<text x="394.8" y="471.4" font-size="7.0" text-anchor="middle" fill="#333" stroke="#333" stroke-width="0.08">Mutations</text>
<text transform="translate(244.3,316.2) rotate(-90)" font-size="6.4" text-anchor="middle" fill="#333" stroke="#333" stroke-width="0.08">Pathway</text>
<rect x="440.3" y="240.90" width="8.2" height="151.20" fill="url(#gD)" stroke="#1c1c1c" stroke-width="1"/>
<path d="M445.2 254.70H448.5" stroke="#1c1c1c" stroke-width="0.9"/>
<text x="451.40" y="256.80" font-size="6.1" text-anchor="start" fill="#444"  stroke="#444" stroke-width="0.08">70</text>
<path d="M445.2 283.35H448.5" stroke="#1c1c1c" stroke-width="0.9"/>
<text x="451.40" y="285.45" font-size="6.1" text-anchor="start" fill="#444"  stroke="#444" stroke-width="0.08">60</text>
<path d="M445.2 312.00H448.5" stroke="#1c1c1c" stroke-width="0.9"/>
<text x="451.40" y="314.10" font-size="6.1" text-anchor="start" fill="#444"  stroke="#444" stroke-width="0.08">50</text>
<path d="M445.2 340.65H448.5" stroke="#1c1c1c" stroke-width="0.9"/>
<text x="451.40" y="342.75" font-size="6.1" text-anchor="start" fill="#444"  stroke="#444" stroke-width="0.08">40</text>
<path d="M445.2 369.30H448.5" stroke="#1c1c1c" stroke-width="0.9"/>
<text x="451.40" y="371.40" font-size="6.1" text-anchor="start" fill="#444"  stroke="#444" stroke-width="0.08">30</text>
<text transform="translate(463.5,318.5) rotate(90)" font-size="7.0" text-anchor="middle" fill="#333" stroke="#333" stroke-width="0.08">Pathway impact</text>
<text x="476.90" y="246.70" font-size="6.1" text-anchor="start" fill="#333"  stroke="#333" stroke-width="0.08">–Log10 FDR</text>
<circle cx="484.6" cy="254.3" r="3.45" fill="#636363" fill-opacity="0.6" stroke="#636363" stroke-opacity="0.65" stroke-width="0.6"/>
<text x="495.20" y="256.40" font-size="5.9" text-anchor="start" fill="#222"  stroke="#222" stroke-width="0.08">1.5</text>
<circle cx="484.6" cy="262.2" r="4.65" fill="#636363" fill-opacity="0.6" stroke="#636363" stroke-opacity="0.65" stroke-width="0.6"/>
<text x="495.20" y="264.30" font-size="5.9" text-anchor="start" fill="#222"  stroke="#222" stroke-width="0.08">3</text>
<circle cx="484.6" cy="270.2" r="5.55" fill="#636363" fill-opacity="0.6" stroke="#636363" stroke-opacity="0.65" stroke-width="0.6"/>
<text x="495.20" y="272.30" font-size="5.9" text-anchor="start" fill="#222"  stroke="#222" stroke-width="0.08">4.5</text>
<circle cx="484.6" cy="278.4" r="6.0" fill="#636363" fill-opacity="0.6" stroke="#636363" stroke-opacity="0.65" stroke-width="0.6"/>
<text x="495.20" y="280.50" font-size="5.9" text-anchor="start" fill="#222"  stroke="#222" stroke-width="0.08">6</text>
<circle cx="484.6" cy="286.4" r="6.7" fill="#636363" fill-opacity="0.6" stroke="#636363" stroke-opacity="0.65" stroke-width="0.6"/>
<text x="495.20" y="288.50" font-size="5.9" text-anchor="start" fill="#222"  stroke="#222" stroke-width="0.08">7.5</text>
<circle cx="484.6" cy="294.3" r="7.4" fill="#636363" fill-opacity="0.6" stroke="#636363" stroke-opacity="0.65" stroke-width="0.6"/>
<text x="495.20" y="296.40" font-size="5.9" text-anchor="start" fill="#222"  stroke="#222" stroke-width="0.08">9</text>
<rect x="0.5" y="0.5" width="519" height="707" fill="none" stroke="#454545" stroke-width="1"/>
</svg></body></html>
